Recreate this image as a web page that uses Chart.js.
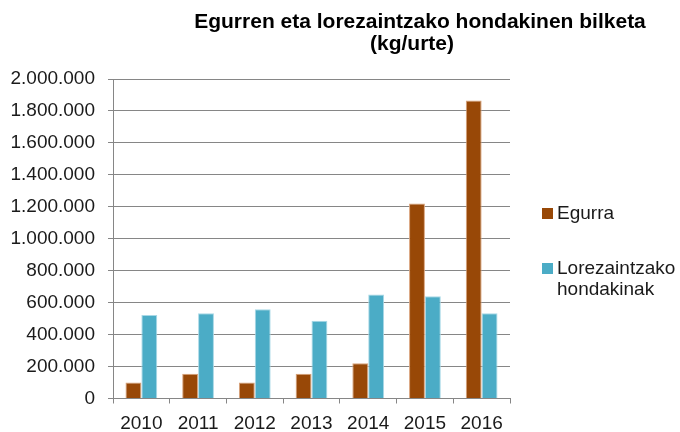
<!DOCTYPE html>
<html>
<head>
<meta charset="utf-8">
<script src="https://cdn.jsdelivr.net/npm/chart.js@4"></script>
<style>
  body { margin: 0; background: #fff; }
  #wrap { width: 680px; height: 432px; }
</style>
</head>
<body>
<div id="wrap"><canvas id="bilketaChart"></canvas></div>
<script>
// Datuak
const urteak = ["2010", "2011", "2012", "2013", "2014", "2015", "2016"];
const egurra = [100000, 155000, 100000, 155000, 220000, 1220000, 1866000];
const lorezaintza = [522000, 533000, 558000, 487000, 651000, 640000, 533000];
const izenburua = ["Egurren eta lorezaintzako hondakinen bilketa", "(kg/urte)"];
const legendaIzenak = [["Egurra"], ["Lorezaintzako", "hondakinak"]];

const letra = "'Liberation Sans', Arial, sans-serif";

// Izenburua eta legenda marrazteko plugina
const apaingarriak = {
  id: "apaingarriak",
  afterDraw(chart) {
    const c = chart.ctx;
    c.save();
    c.fillStyle = "#000";
    c.textAlign = "center";
    c.textBaseline = "middle";
    c.font = "bold 21px " + letra;
    c.fillText(izenburua[0], 420, 22);
    c.fillText(izenburua[1], 412, 44);

    const legendaY = [214, 269];
    c.textAlign = "left";
    c.font = "19px " + letra;
    chart.data.datasets.forEach((ds, i) => {
      const y = legendaY[i];
      c.fillStyle = ds.backgroundColor;
      c.fillRect(542, y - 6, 11, 11);
      c.fillStyle = "#1a1a1a";
      legendaIzenak[i].forEach((lerroa, j) => {
        c.fillText(lerroa, 557, y + j * 21);
      });
    });
    c.restore();
  }
};

const ctx = document.getElementById("bilketaChart").getContext("2d");

const bilketaChart = new Chart(ctx, {
  type: "bar",
  data: {
    labels: urteak,
    datasets: [
      {
        label: "Egurra",
        data: egurra,
        backgroundColor: "#984807",
        borderColor: "#d9a27a",
        borderWidth: 1
      },
      {
        label: "Lorezaintzako hondakinak",
        data: lorezaintza,
        backgroundColor: "#4bacc6",
        borderColor: "#a8d8e6",
        borderWidth: 1
      }
    ]
  },
  options: {
    responsive: true,
    maintainAspectRatio: false,
    animation: false,
    datasets: {
      bar: { categoryPercentage: 0.56, barPercentage: 1 }
    },
    layout: {
      padding: { left: 10, right: 170, top: 79, bottom: 0 }
    },
    plugins: {
      legend: { display: false },
      title: { display: false },
      tooltip: { enabled: false }
    },
    scales: {
      x: {
        afterFit(scale) { scale.height = 33.5; },
        grid: {
          offset: true,
          drawOnChartArea: false,
          color: "#868686",
          tickLength: 5
        },
        border: { color: "#868686" },
        ticks: {
          color: "#1a1a1a",
          padding: 11,
          maxRotation: 0,
          font: { family: letra, size: 19, lineHeight: 1 }
        }
      },
      y: {
        min: 0,
        max: 2000000,
        afterFit(scale) { scale.width = 103; },
        grid: { color: "#868686", tickLength: 5 },
        border: { color: "#868686" },
        ticks: {
          stepSize: 200000,
          color: "#1a1a1a",
          padding: 13,
          font: { family: letra, size: 19 },
          callback: (v) => String(v).replace(/\B(?=(\d{3})+(?!\d))/g, ".")
        }
      }
    }
  },
  plugins: [apaingarriak]
});
</script>
</body>
</html>
